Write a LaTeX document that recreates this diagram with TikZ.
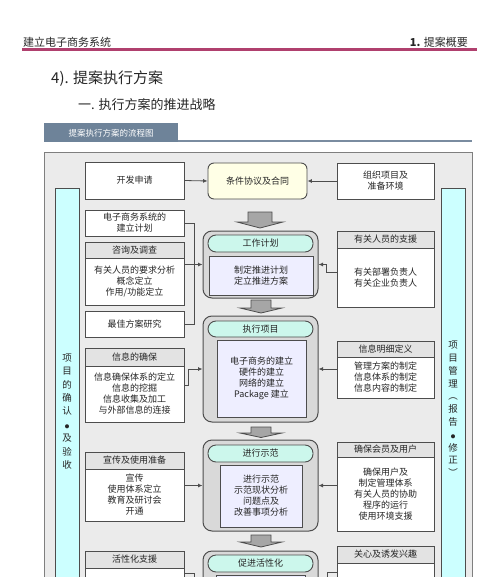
\documentclass[tikz,border=0pt]{standalone}
\usepackage{fontspec}
\setmainfont{Noto Sans CJK SC}
\usetikzlibrary{arrows.meta,calc}
\definecolor{bord}{HTML}{4D4D4D}
\definecolor{framefill}{HTML}{EBEBEB}
\definecolor{framebord}{HTML}{7F7F7F}
\definecolor{barfill}{HTML}{CCFFFF}
\definecolor{hdrfill}{HTML}{E3E3E3}
\definecolor{grpfill}{HTML}{D9D9D9}
\definecolor{pillfill}{HTML}{CCF7EC}
\definecolor{bodyfill}{HTML}{EEEEFF}
\definecolor{tjfill}{HTML}{FFFFE6}
\definecolor{blkfill}{HTML}{A6A6A6}
\definecolor{tabfill}{HTML}{6E8399}
\definecolor{tabline}{HTML}{7A8CA0}
\definecolor{topline}{HTML}{B0406E}
\definecolor{txt}{HTML}{262626}
\newcommand\vdot{{\fontsize{4.5}{13.4}\selectfont ●}}
\begin{document}
\begin{tikzpicture}[x=1pt,y=-1pt,
  box/.style={draw=bord, fill=white, line width=0.9pt, inner sep=0pt, align=center,
    font=\fontsize{9}{11}\selectfont, text=txt},
  hdr/.style={box, fill=hdrfill},
  grp/.style={draw=bord, fill=grpfill, rounded corners=9pt, line width=1pt, inner sep=0pt},
  pill/.style={box, fill=pillfill, rounded corners=8pt},
  bodyb/.style={box, fill=bodyfill},
  tjbox/.style={box, fill=tjfill, rounded corners=6pt},
  arr/.style={-{Latex[length=4.5pt,width=4pt]}, line width=0.8pt, draw=bord},
  ln/.style={line width=0.8pt, draw=bord},
  barst/.style={draw=bord, fill=barfill, line width=0.9pt},
  blk/.style={draw=bord, fill=blkfill, line width=0.8pt},
  vtext/.style={align=center, inner sep=0pt, text=txt}
]
\useasboundingbox (0,0) rectangle (500,577);
\clip (0,0) rectangle (500,577);

% page header
\node[anchor=west, inner sep=0, text=txt, font=\fontsize{11}{13}\selectfont] (ht) at (23,42) {建立电子商务系统};
\node[anchor=east, inner sep=0, text=txt, font=\fontsize{11}{13}\selectfont] (hr) at (468,42) {\textbf{1.} 提案概要};
\draw[topline, line width=2.6pt] (22,49.5) -- (477,49.5);

\node[anchor=west, inner sep=0, text=txt, font=\fontsize{15}{17}\selectfont] (t1) at (51,79) {4). 提案执行方案};
\node[anchor=west, inner sep=0, text=txt, font=\fontsize{13}{15}\selectfont] (t2) at (78,105) {一. 执行方案的推进战略};

% tab
\fill[tabfill] (44,123) rectangle (178,142);
\node[text=white, inner sep=0, font=\fontsize{8.5}{10}\selectfont] (tab) at (111,133) {提案执行方案的流程图};
\draw[tabline, line width=2pt] (178,141) -- (472,141);

% frame
\draw[fill=framefill, draw=framebord, line width=0.9pt] (44,152) rectangle (472,640);

% side bars
\draw[barst] (55,188) rectangle (79,640);
\draw[barst] (441,188) rectangle (465,640);
\node[vtext, font=\fontsize{9.5}{13.4}\selectfont] (lbt) at (67,411.5) {项\\目\\的\\确\\认\\\vdot\\及\\验\\收};
\node[vtext, font=\fontsize{9.5}{12.8}\selectfont] (rbt) at (453,409) {项\\目\\管\\理\\︵\\报\\告\\\vdot\\修\\正\\︶};

% left column
\node[box, minimum width=99, minimum height=37] (kf) at (134.5,180.5) {开发申请};
\node[box, minimum width=99, minimum height=26] (jh) at (134.5,223) {电子商务系统的\\建立计划};
\node[hdr, minimum width=99, minimum height=16] (zxh) at (134.5,250) {咨询及调查};
\node[box, minimum width=99, minimum height=47] (zxb) at (134.5,281.5) {有关人员的要求分析\\概念定立\\作用/功能定立};
\node[box, minimum width=99, minimum height=26] (zj) at (134.5,324) {最佳方案研究};
\node[hdr, minimum width=99, minimum height=18] (xxh) at (134.5,357) {信息的确保};
\node[box, minimum width=99, minimum height=56] (xxb) at (134.5,394) {信息确保体系的定立\\信息的挖掘\\信息收集及加工\\与外部信息的连接};
\node[hdr, minimum width=99, minimum height=17] (xch) at (134.5,460.5) {宣传及使用准备};
\node[box, minimum width=99, minimum height=52] (xcb) at (134.5,495) {宣传\\使用体系定立\\教育及研讨会\\开通};
\node[hdr, minimum width=99, minimum height=17] (hxh) at (134.5,559.5) {活性化支援};
\node[box, minimum width=99, minimum height=60] (hxb) at (134.5,598) {};

% right column
\node[box, minimum width=97, minimum height=36] (zz) at (385.5,181) {组织项目及\\准备环境};
\node[hdr, minimum width=97, minimum height=17] (ygh) at (385.5,239.5) {有关人员的支援};
\node[box, minimum width=97, minimum height=59] (ygb) at (385.5,277.5) {有关部署负责人\\有关企业负责人};
\node[hdr, minimum width=97, minimum height=16] (xmh) at (385.5,349) {信息明细定义};
\node[box, minimum width=97, minimum height=41] (xmb) at (385.5,377.5) {管理方案的制定\\信息体系的制定\\信息内容的制定};
\node[hdr, minimum width=97, minimum height=15] (qbh) at (385.5,449.5) {确保会员及用户};
\node[box, minimum width=97, minimum height=74] (qbb) at (385.5,494) {确保用户及\\制定管理体系\\有关人员的协助\\程序的运行\\使用环境支援};
\node[hdr, minimum width=97, minimum height=17] (gxh) at (385.5,554.5) {关心及诱发兴趣};
\node[box, minimum width=97, minimum height=60] (gxb) at (385.5,593) {};

% center column
\node[tjbox, minimum width=99, minimum height=36] (tj) at (257.5,181) {条件协议及合同};

\node[grp, minimum width=115, minimum height=67] (g1) at (260.5,264.5) {};
\node[pill, minimum width=105, minimum height=17] (p1) at (260.5,243.5) {工作计划};
\node[bodyb, minimum width=104, minimum height=39] (b1) at (261,275.5) {制定推进计划\\定立推进方案};

\node[grp, minimum width=115, minimum height=106] (g2) at (260.5,369) {};
\node[pill, minimum width=105, minimum height=16] (p2) at (260.5,329) {执行项目};
\node[bodyb, minimum width=89, minimum height=77] (b2) at (261.5,378.5) {电子商务的建立\\硬件的建立\\网络的建立\\Package 建立};

\node[grp, minimum width=115, minimum height=91] (g3) at (260.5,485.5) {};
\node[pill, minimum width=105, minimum height=17] (p3) at (260.5,453.5) {进行示范};
\node[bodyb, minimum width=82, minimum height=62] (b3) at (261,496) {进行示范\\示范现状分析\\问题点及\\改善事项分析};

\node[grp, minimum width=115, minimum height=100] (g4) at (260.5,601) {};
\node[pill, minimum width=105, minimum height=17] (p4) at (260.5,563.5) {促进活性化};
\node[bodyb, minimum width=89, minimum height=60] (b4) at (261,605) {};

% block arrows
\draw[blk, shift={(260,212)}] (-12,0) -- (12,0) -- (12,10) -- (23,10) -- (0,16) -- (-23,10) -- (-12,10) -- cycle;
\draw[blk, shift={(261,300)}] (-10,0) -- (10,0) -- (10,8) -- (21,8) -- (0,13) -- (-21,8) -- (-10,8) -- cycle;
\draw[blk, shift={(261,427)}] (-10,0) -- (10,0) -- (10,6) -- (21,6) -- (0,10.5) -- (-21,6) -- (-10,6) -- cycle;
\draw[blk, shift={(261,535)}] (-10,0) -- (10,0) -- (10,7) -- (21,7) -- (0,12) -- (-21,7) -- (-10,7) -- cycle;

% connectors
\draw[arr] (kf.east) -- (tj.west);
\draw[arr] (zz.west) -- (tj.east);
\coordinate (bx) at (194,0);
\draw[ln] (jh.east) -| (bx |- zj.east) -- (zj.east);
\draw[arr] (zxb.east |- g1.west) -- (g1.west);
\draw[arr] ([yshift=9pt]xxb.east) -- ++(4,0) |- (g2.west);
\draw[arr] (xcb.east |- g3.west) -- (g3.west);
\draw[arr] ([yshift=5.5pt]ygb.west) -- ++(-10,0) |- (g1.east);
\draw[arr] (xmb.west |- g2.east) -- (g2.east);
\draw[arr] (qbb.west |- g3.east) -- (g3.east);
\coordinate (lc) at (194,600);
\coordinate (rc) at (327,600);
\draw[ln] ([yshift=25pt]hxb.east) -| (lc);
\draw[ln] ([yshift=21pt]gxb.west) -| (rc);
\end{tikzpicture}
\end{document}
